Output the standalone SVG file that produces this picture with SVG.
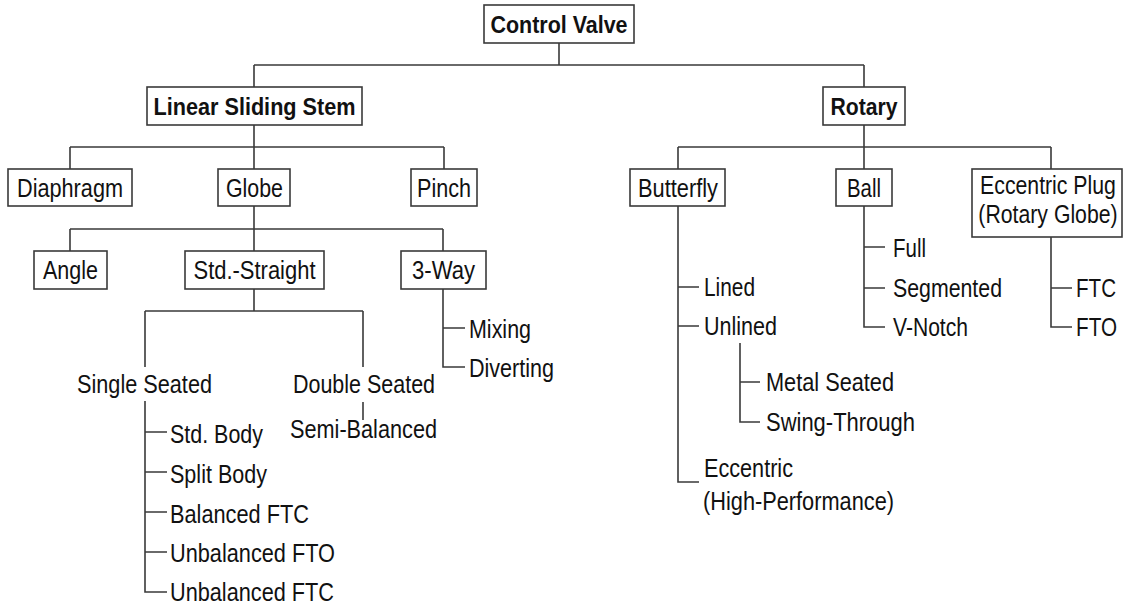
<svg xmlns="http://www.w3.org/2000/svg" width="1124" height="605" viewBox="0 0 1124 605">
<style>
.bg{fill:#ffffff}
.box{fill:#ffffff;stroke:#3a3a3a;stroke-width:1.6}
.ln{fill:none;stroke:#3a3a3a;stroke-width:1.6}
text{font-family:"Liberation Sans",Arial,sans-serif;font-size:25px;fill:#111111}
.b{font-weight:bold;font-size:24px}
.m{text-anchor:middle}
</style>
<rect class="bg" x="0" y="0" width="1124" height="605"/>
<g id="connectors">
<path class="ln" d="M559 43V65M254 65H864M254 65V87M864 65V87"/>
<path class="ln" d="M254 125V147M70 147H444M70 147V169M254 147V169M444 147V169"/>
<path class="ln" d="M864 125V147M678 147H1051M678 147V169M864 147V169M1051 147V169"/>
<path class="ln" d="M254 206V229M70 229H443M70 229V251M254 229V251M443 229V251"/>
<path class="ln" d="M254 289V311M145 311H363M145 311V367M363 311V367"/>
<path class="ln" d="M145 401V592H167M145 432H167M145 472H167M145 512H167M145 552H167"/>
<path class="ln" d="M363 402V420"/>
<path class="ln" d="M443 289V367H465M443 328H465"/>
<path class="ln" d="M678 206V482H699M678 287H699M678 326H699"/>
<path class="ln" d="M740 343V422H760M740 382H760"/>
<path class="ln" d="M864 206V327H885M864 247H885M864 288H885"/>
<path class="ln" d="M1051 237V327H1072M1051 288H1072"/>
</g>
<g id="control-valve"><rect class="box" x="484" y="5" width="150" height="38"/><text class="b m" x="559" y="33" textLength="137" lengthAdjust="spacingAndGlyphs">Control Valve</text></g>
<g id="linear-sliding-stem"><rect class="box" x="147" y="87" width="215" height="38"/><text class="b m" x="254.5" y="115" textLength="202" lengthAdjust="spacingAndGlyphs">Linear Sliding Stem</text></g>
<g id="rotary"><rect class="box" x="823" y="87" width="82" height="38"/><text class="b m" x="864" y="115" textLength="67" lengthAdjust="spacingAndGlyphs">Rotary</text></g>
<g id="diaphragm"><rect class="box" x="8" y="169" width="124" height="37"/><text class="m" x="70" y="197" textLength="106" lengthAdjust="spacingAndGlyphs">Diaphragm</text></g>
<g id="globe"><rect class="box" x="218" y="169" width="72" height="37"/><text class="m" x="254.5" y="197" textLength="57" lengthAdjust="spacingAndGlyphs">Globe</text></g>
<g id="pinch"><rect class="box" x="411" y="169" width="66" height="37"/><text class="m" x="444" y="197" textLength="54" lengthAdjust="spacingAndGlyphs">Pinch</text></g>
<g id="butterfly"><rect class="box" x="630" y="169" width="95" height="37"/><text class="m" x="678" y="197" textLength="80" lengthAdjust="spacingAndGlyphs">Butterfly</text></g>
<g id="ball"><rect class="box" x="836" y="169" width="56" height="37"/><text class="m" x="864" y="197" textLength="34" lengthAdjust="spacingAndGlyphs">Ball</text></g>
<g id="eccentric-plug"><rect class="box" x="972" y="169" width="150" height="68"/><text class="m" transform="translate(1048 194) scale(0.85 1)" x="0" y="0">Eccentric Plug</text><text class="m" transform="translate(1048 223) scale(0.85 1)" x="0" y="0">(Rotary Globe)</text></g>
<g id="angle"><rect class="box" x="34" y="251" width="73" height="38"/><text class="m" x="70.5" y="279" textLength="55" lengthAdjust="spacingAndGlyphs">Angle</text></g>
<g id="std-straight"><rect class="box" x="185" y="251" width="139" height="38"/><text class="m" x="254.5" y="279" textLength="122" lengthAdjust="spacingAndGlyphs">Std.-Straight</text></g>
<g id="three-way"><rect class="box" x="401" y="251" width="85" height="38"/><text class="m" x="443.5" y="279" textLength="63" lengthAdjust="spacingAndGlyphs">3-Way</text></g>
<g id="single-seated"><text class="m" x="144.5" y="393" textLength="135" lengthAdjust="spacingAndGlyphs">Single Seated</text></g>
<g id="double-seated"><text class="m" x="364" y="393" textLength="142" lengthAdjust="spacingAndGlyphs">Double Seated</text></g>
<g id="semi-balanced"><text class="m" x="363.5" y="438" textLength="147" lengthAdjust="spacingAndGlyphs">Semi-Balanced</text></g>
<g id="std-body"><text x="170" y="443" textLength="93" lengthAdjust="spacingAndGlyphs">Std. Body</text></g>
<g id="split-body"><text x="170" y="483" textLength="97" lengthAdjust="spacingAndGlyphs">Split Body</text></g>
<g id="balanced-ftc"><text x="170" y="523" textLength="139" lengthAdjust="spacingAndGlyphs">Balanced FTC</text></g>
<g id="unbalanced-fto"><text x="170" y="562" textLength="165" lengthAdjust="spacingAndGlyphs">Unbalanced FTO</text></g>
<g id="unbalanced-ftc"><text x="170" y="601" textLength="164" lengthAdjust="spacingAndGlyphs">Unbalanced FTC</text></g>
<g id="mixing"><text x="469" y="338" textLength="62" lengthAdjust="spacingAndGlyphs">Mixing</text></g>
<g id="diverting"><text x="469" y="377" textLength="85" lengthAdjust="spacingAndGlyphs">Diverting</text></g>
<g id="lined"><text x="704" y="296" textLength="51" lengthAdjust="spacingAndGlyphs">Lined</text></g>
<g id="unlined"><text x="704" y="335" textLength="73" lengthAdjust="spacingAndGlyphs">Unlined</text></g>
<g id="metal-seated"><text x="766" y="391" textLength="128" lengthAdjust="spacingAndGlyphs">Metal Seated</text></g>
<g id="swing-through"><text x="766" y="431" textLength="149" lengthAdjust="spacingAndGlyphs">Swing-Through</text></g>
<g id="eccentric"><text x="704" y="477" textLength="89" lengthAdjust="spacingAndGlyphs">Eccentric</text><text x="703" y="510" textLength="191" lengthAdjust="spacingAndGlyphs">(High-Performance)</text></g>
<g id="full"><text x="893" y="257" textLength="33" lengthAdjust="spacingAndGlyphs">Full</text></g>
<g id="segmented"><text x="893" y="297" textLength="109" lengthAdjust="spacingAndGlyphs">Segmented</text></g>
<g id="v-notch"><text x="893" y="336" textLength="75" lengthAdjust="spacingAndGlyphs">V-Notch</text></g>
<g id="ftc"><text x="1076" y="297" textLength="40" lengthAdjust="spacingAndGlyphs">FTC</text></g>
<g id="fto"><text x="1076" y="336" textLength="41" lengthAdjust="spacingAndGlyphs">FTO</text></g>
</svg>
